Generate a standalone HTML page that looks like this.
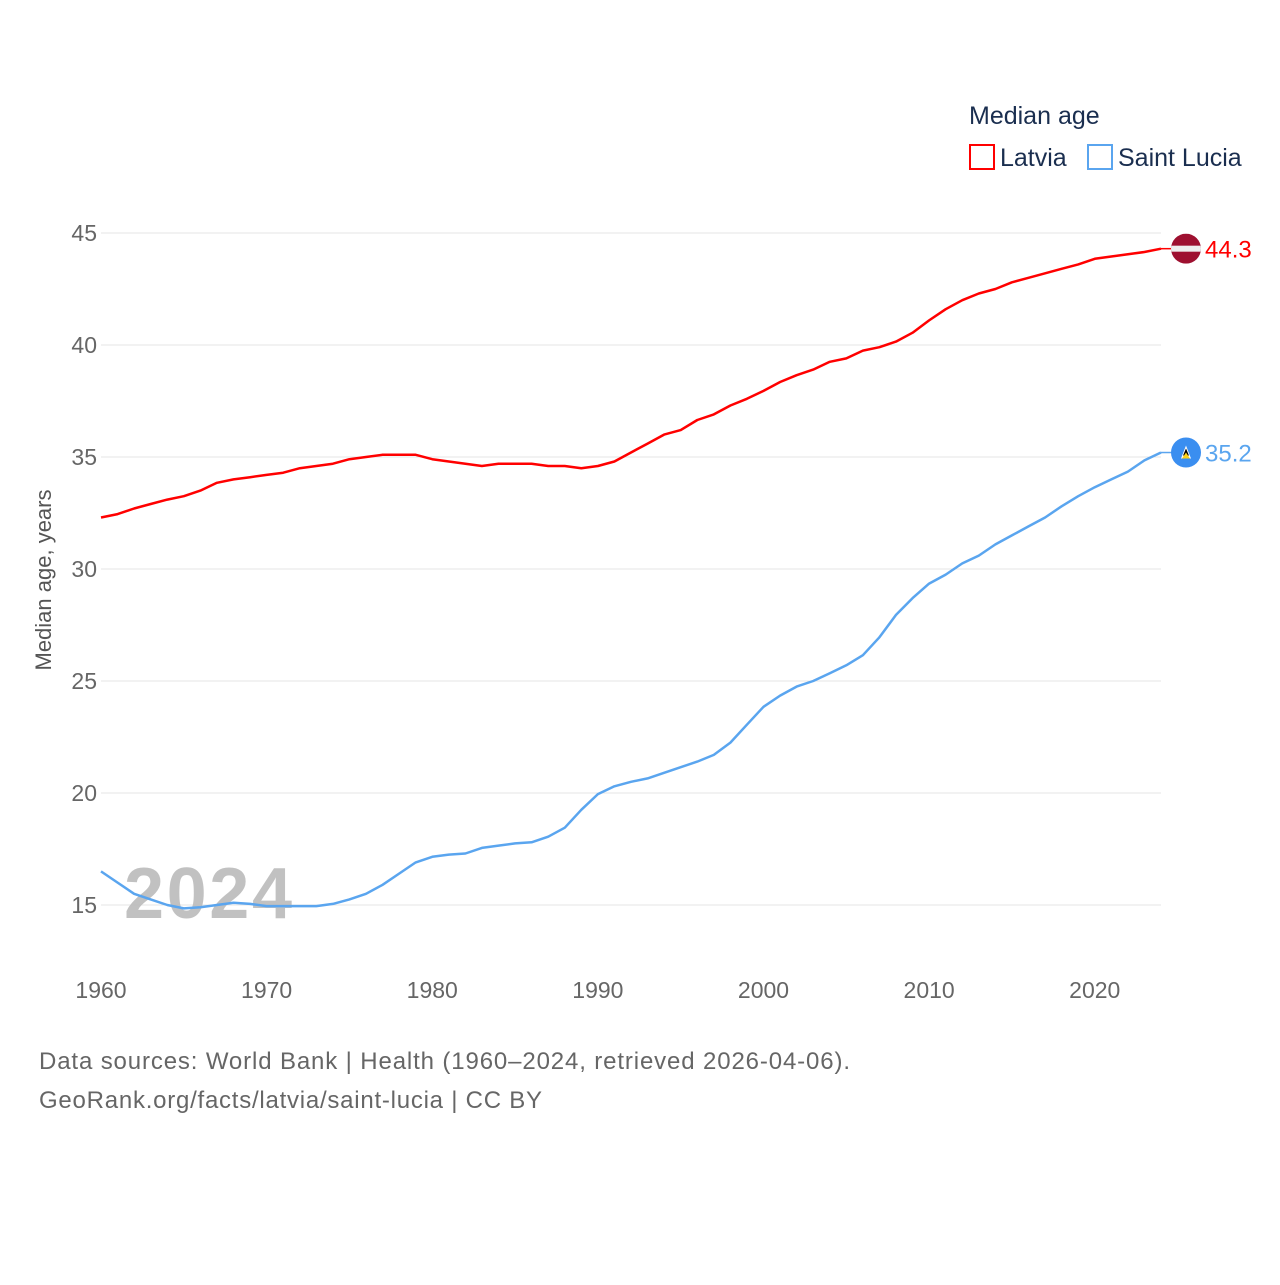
<!DOCTYPE html>
<html><head><meta charset="utf-8"><style>
body{margin:0;background:#fff;width:1280px;height:1280px;overflow:hidden;font-family:"Liberation Sans",sans-serif}
</style></head><body>
<svg id="chart" width="1280" height="1280" xmlns="http://www.w3.org/2000/svg">
<g id="grid"></g>
<g id="yt"></g>
<g id="xt"></g>
<text x="208" y="918" text-anchor="middle" font-size="72" font-weight="bold" fill="#bbb" opacity="0.9" textLength="168">2024</text>
<g id="series"></g>
<text transform="translate(51,580) rotate(-90)" text-anchor="middle" font-size="22" fill="#555">Median age, years</text>
<text x="969" y="124" font-size="25" fill="#1a2e4f">Median age</text>
<g><rect x="970" y="145" width="24" height="24" fill="none" stroke="#f00" stroke-width="2"/><text x="1000" y="166" font-size="25" fill="#1a2e4f">Latvia</text></g>
<g><rect x="1088" y="145" width="24" height="24" fill="none" stroke="#5aa5ef" stroke-width="2"/><text x="1118" y="166" font-size="25" fill="#1a2e4f">Saint Lucia</text></g>
<text x="39" y="1069" font-size="24" fill="#666" textLength="811">Data sources: World Bank | Health (1960–2024, retrieved 2026-04-06).</text>
<text x="39" y="1108" font-size="24" fill="#666" textLength="503">GeoRank.org/facts/latvia/saint-lucia | CC BY</text>
</svg>
<script>
const years=[];for(let y=1960;y<=2024;y++)years.push(y);
const latvia=[32.3,32.45,32.7,32.9,33.1,33.25,33.5,33.85,34.0,34.1,34.2,34.3,34.5,34.6,34.7,34.9,35.0,35.1,35.1,35.1,34.9,34.8,34.7,34.6,34.7,34.7,34.7,34.6,34.6,34.5,34.6,34.8,35.2,35.6,36.0,36.2,36.65,36.9,37.3,37.6,37.95,38.35,38.65,38.9,39.25,39.4,39.75,39.9,40.15,40.55,41.1,41.6,42.0,42.3,42.5,42.8,43.0,43.2,43.4,43.6,43.85,43.95,44.05,44.15,44.3];
const stlucia=[16.5,16.0,15.5,15.25,15.0,14.85,14.9,15.0,15.1,15.05,14.95,14.95,14.95,14.95,15.05,15.25,15.5,15.9,16.4,16.9,17.15,17.25,17.3,17.55,17.65,17.75,17.8,18.05,18.45,19.25,19.95,20.3,20.5,20.65,20.9,21.15,21.4,21.7,22.25,23.05,23.85,24.35,24.75,25.0,25.35,25.7,26.15,26.95,27.95,28.7,29.35,29.75,30.25,30.6,31.1,31.5,31.9,32.3,32.8,33.25,33.65,34.0,34.35,34.85,35.2];
const yTicks=[15,20,25,30,35,40,45];
const xTicks=[1960,1970,1980,1990,2000,2010,2020];
const NS="http://www.w3.org/2000/svg";
const X=v=>101+(v-1960)*(1060/64);
const Y=v=>233+(45-v)*22.4;
function mk(tag,attrs,parent,txt){const e=document.createElementNS(NS,tag);for(const k in attrs)e.setAttribute(k,attrs[k]);if(txt!==undefined)e.textContent=txt;document.getElementById(parent).appendChild(e);return e;}
yTicks.forEach(t=>{
 const l=mk('line',{x1:101,x2:1161,y1:Y(t),y2:Y(t),stroke:'#e6e6e6','stroke-width':1},'grid');
 
 
 const tx=mk('text',{x:97,y:Y(t)+8,'text-anchor':'end','font-size':23,fill:'#666'},'yt',t);
 
 
});
xTicks.forEach(t=>{
 const tx=mk('text',{x:X(t),y:998,'text-anchor':'middle','font-size':23,fill:'#666'},'xt',t);
 
 
});
function series(data,color,name,label,flag){
 const d=data.map((v,i)=>(i?'L':'M')+X(years[i]).toFixed(1)+' '+Y(v).toFixed(1)).join(' ');
 const p=mk('path',{d:d,fill:'none',stroke:color,'stroke-width':2.5,'stroke-linejoin':'round'},'series');
 
 
 const last=data[data.length-1],ly=Y(last);
 mk('line',{x1:1161,x2:1172,y1:ly,y2:ly,stroke:color,'stroke-width':1.5},'series');
 const g=mk('g',{},'series');
 
 
 flag(g,1186,ly);
 const t=mk('text',{x:1205,y:ly+9,'font-size':24,fill:color},'series',last.toFixed(1));
 
 
}
function add(g,tag,a){const e=document.createElementNS(NS,tag);for(const k in a)e.setAttribute(k,a[k]);g.appendChild(e);}
series(latvia,'#ff0000','latvia',0,(g,cx,cy)=>{
 add(g,'clipPath',{id:'lvc'});g.lastChild.innerHTML='<circle cx="'+cx+'" cy="'+cy+'" r="15"/>';
 add(g,'rect',{x:cx-15,y:cy-15,width:30,height:30,fill:'#9e1030','clip-path':'url(#lvc)'});
 add(g,'rect',{x:cx-15,y:cy-3,width:30,height:6,fill:'#eee','clip-path':'url(#lvc)'});
});
series(stlucia,'#5aa5ef','saint-lucia',0,(g,cx,cy)=>{
 add(g,'circle',{cx:cx,cy:cy,r:15,fill:'#3a8ef0'});
 add(g,'polygon',{points:(cx)+','+(cy-7)+' '+(cx-5)+','+(cy+6)+' '+(cx+5)+','+(cy+6),fill:'#fff'});
 add(g,'polygon',{points:(cx)+','+(cy-4)+' '+(cx-3)+','+(cy+3)+' '+(cx+3)+','+(cy+3),fill:'#000'});
 add(g,'polygon',{points:(cx-4)+','+(cy+6)+' '+(cx+4)+','+(cy+6)+' '+(cx)+','+(cy)+'',fill:'#fcd116'});
});
</script>
</body></html>
